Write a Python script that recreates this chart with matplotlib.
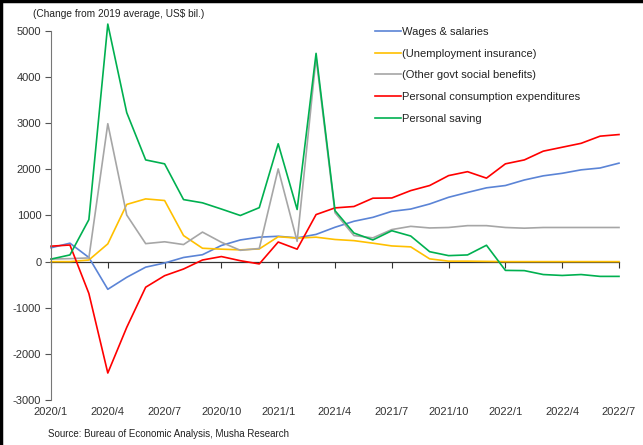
import matplotlib
matplotlib.use("Agg")
import matplotlib.pyplot as plt
from matplotlib.lines import Line2D
import numpy as np

plt.rcParams['font.family'] = ['Liberation Sans', 'DejaVu Sans']
plt.rcParams['axes.unicode_minus'] = False

# months 2020/1 .. 2022/7
months = [f"{2020 + i // 12}/{i % 12 + 1}" for i in range(31)]

wages = [300, 400, 90, -600, -340, -120, -30, 90, 150, 350, 470, 530, 550, 515, 590,
         745, 875, 960, 1090, 1140, 1250, 1395, 1500, 1600, 1650, 1770, 1860, 1915, 1990, 2030, 2135]
unemp = [0, 0, 35, 385, 1240, 1360, 1325, 565, 290, 270, 255, 275, 540, 510, 530,
         480, 455, 400, 340, 320, 60, 10, 10, 5, 0, 0, 0, 0, 0, 0, 0]
other_govt = [55, 65, 80, 2990, 1010, 390, 430, 370, 640, 420, 245, 285, 2010, 440, 4420,
              1060, 565, 515, 695, 765, 730, 740, 780, 780, 740, 725, 740, 740, 740, 740, 740]
pce = [335, 360, -690, -2415, -1425, -555, -305, -160, 35, 110, 20, -50, 425, 270, 1020,
       1165, 1195, 1375, 1380, 1540, 1650, 1865, 1950, 1810, 2120, 2205, 2395, 2480, 2565, 2720, 2755]
saving = [55, 145, 910, 5150, 3230, 2205, 2120, 1345, 1275, 1140, 1000, 1170, 2555, 1130, 4515,
          1105, 620, 470, 670, 555, 215, 130, 145, 355, -190, -195, -280, -300, -280, -320, -320]

series = [
    ("Wages & salaries", wages, "#5B84D6"),
    ("(Unemployment insurance)", unemp, "#FFC000"),
    ("(Other govt social benefits)", other_govt, "#A6A6A6"),
    ("Personal consumption expenditures", pce, "#FF0000"),
    ("Personal saving", saving, "#00B050"),
]

fig = plt.figure(figsize=(6.43, 4.45), dpi=100)
ax = fig.add_axes([51 / 643, 1 - 400 / 445, 568 / 643, 369 / 445])

x = np.arange(len(months))
for name, vals, col in series:
    ax.plot(x, vals, color=col, lw=1.2, label=name, clip_on=False)

ax.set_xlim(0, 30)
ax.set_ylim(-3000, 5000)
ax.set_yticks(range(-3000, 5001, 1000))
ax.tick_params(axis='y', direction='out', length=4, width=0.8, color='#555555',
               labelsize=8, labelcolor='#333333', pad=3)

# labels at the bottom, no marks there
ax.set_xticks(x[::3])
ax.set_xticklabels(months[::3])
ax.tick_params(axis='x', length=0, labelsize=8, labelcolor='#333333', pad=5)

for s in ['top', 'right', 'bottom']:
    ax.spines[s].set_visible(False)
ax.spines['left'].set_color('#777777')
ax.spines['left'].set_linewidth(0.8)

# zero axis with tick marks
zero = ax.secondary_xaxis(3 / 8)
zero.set_xticks(x[::3])
zero.set_xticklabels([])
zero.tick_params(direction='out', length=4, width=0.8, color='#333333')
zero.spines['bottom'].set_color('#333333')
zero.spines['bottom'].set_linewidth(0.9)

fig.text(33 / 643, 1 - 14 / 445, "(Change from 2019 average, US$ bil.)", fontsize=7.3,
         color='#222222', va='center', ha='left')
fig.text(48 / 643, 1 - 434 / 445, "Source: Bureau of Economic Analysis, Musha Research",
         fontsize=7, color='#222222', va='center', ha='left')

leg = ax.legend(loc='upper left', bbox_to_anchor=(375 / 643, 1 - 27 / 445),
                bbox_transform=fig.transFigure, frameon=False, fontsize=8,
                handlelength=2.3, handletextpad=0.1, labelspacing=1.05, borderpad=0,
                borderaxespad=0)
for t in leg.get_texts():
    t.set_color('#222222')

fig.add_artist(Line2D([0.002, 0.002], [0, 1], color='black', lw=2.5, transform=fig.transFigure))
fig.add_artist(Line2D([0, 1], [0.998, 0.998], color='black', lw=2.5, transform=fig.transFigure))

fig.savefig("out.png", dpi=100)
